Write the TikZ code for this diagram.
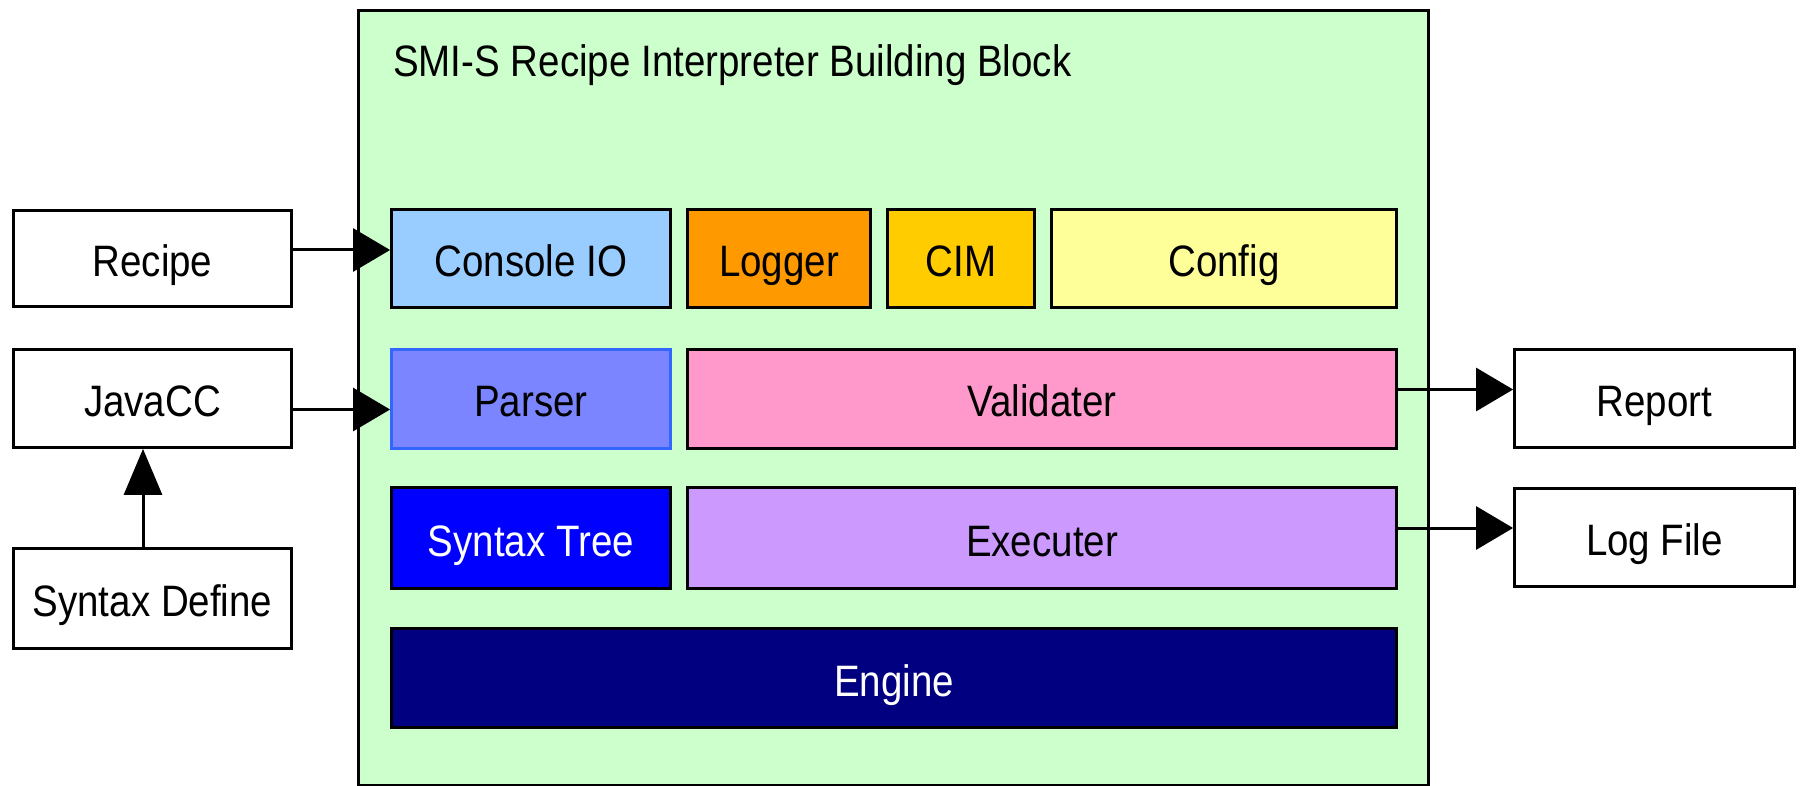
\documentclass[tikz,border=0pt]{standalone}
\usepackage{fontspec}
\usepackage{graphicx}
\setmainfont{Liberation Sans}
\usetikzlibrary{arrows.meta}

% narrow lettering used throughout
\newcommand{\narrow}[1]{\scalebox{0.875}[1]{#1}}

\definecolor{blockgreen}{HTML}{CCFFCC}
\definecolor{consolecol}{HTML}{99CCFF}
\definecolor{loggercol}{HTML}{FF9900}
\definecolor{cimcol}{HTML}{FFCC00}
\definecolor{configcol}{HTML}{FFFF99}
\definecolor{parsercol}{HTML}{7A85FF}
\definecolor{parserline}{HTML}{3366FF}
\definecolor{validcol}{HTML}{FF99CC}
\definecolor{treecol}{HTML}{0000FF}
\definecolor{execcol}{HTML}{CC99FF}
\definecolor{enginecol}{HTML}{000080}

\tikzset{
  box/.style={draw=black, line width=2.8pt, rectangle, inner sep=0pt,
    font=\fontsize{44}{52}\selectfont, text height=36pt, text depth=0pt},
  extbox/.style={box, fill=white, minimum width=278pt},
  part/.style={box},
  arr/.style={draw=black, line width=3pt, -{Triangle[length=37pt,width=43pt]}},
  uparr/.style={draw=black, line width=3pt, -{Triangle[length=46pt,width=38pt]}}
}

\begin{document}
\begin{tikzpicture}[x=1pt, y=-1pt]
\useasboundingbox (0,0) rectangle (1800,786);

% the building block container
\node[draw=black, line width=3pt, fill=blockgreen, rectangle, inner sep=0pt,
      minimum width=1070pt, minimum height=775pt] (block) at (893.5,398) {};
\node[anchor=base west, inner sep=0pt, font=\fontsize{44}{52}\selectfont]
  (title) at (393,77) {\narrow{SMI-S Recipe Interpreter Building Block}};

% first row
\node[part, fill=consolecol, minimum width=279pt, minimum height=98pt] (console) at (531,258.5) {\narrow{Console IO}};
\node[part, fill=loggercol, minimum width=183pt, minimum height=98pt] (logger) at (779,258.5) {\narrow{Logger}};
\node[part, fill=cimcol, minimum width=147pt, minimum height=98pt] (cim) at (961,258.5) {\narrow{CIM}};
\node[part, fill=configcol, minimum width=345pt, minimum height=98pt] (config) at (1224,258.5) {\narrow{Config}};

% second row
\node[part, draw=parserline, fill=parsercol, minimum width=279pt, minimum height=99pt] (parser) at (531,399) {\narrow{Parser}};
\node[part, fill=validcol, minimum width=709pt, minimum height=99pt] (validater) at (1042,399) {\narrow{Validater}};

% third row
\node[part, fill=treecol, text=white, minimum width=279pt, minimum height=101pt] (tree) at (531,538) {\narrow{Syntax Tree}};
\node[part, fill=execcol, minimum width=709pt, minimum height=101pt] (executer) at (1042,538) {\narrow{Executer}};

% base row
\node[part, fill=enginecol, text=white, minimum width=1005pt, minimum height=99pt] (engine) at (894,678) {\narrow{Engine}};

% external inputs
\node[extbox, minimum height=96pt] (recipe) at (152.5,258.5) {\narrow{Recipe}};
\node[extbox, minimum height=98pt] (javacc) at (152.5,398.5) {\narrow{JavaCC}};
\node[extbox, minimum height=100pt] (syndef) at (152.5,598.5) {\narrow{Syntax Define}};

% external outputs
\node[extbox, minimum width=280pt, minimum height=98pt] (report) at (1654.5,398.5) {\narrow{Report}};
\node[extbox, minimum width=280pt, minimum height=98pt] (logfile) at (1654.5,537.5) {\narrow{Log File}};

% connectors, kept level by projecting onto the target's side
\draw[arr] ([yshift=8.5pt]recipe.east) -- ([yshift=8.5pt]recipe.east -| console.west);
\draw[arr] ([yshift=-11pt]javacc.east) -- ([yshift=-11pt]javacc.east -| parser.west);
\draw[uparr] ([xshift=-9.5pt]syndef.north) -- ([xshift=-9.5pt]syndef.north |- javacc.south);
\draw[arr] ([yshift=9.5pt]validater.east) -- ([yshift=9.5pt]validater.east -| report.west);
\draw[arr] ([yshift=10pt]executer.east) -- ([yshift=10pt]executer.east -| logfile.west);
\end{tikzpicture}
\end{document}
